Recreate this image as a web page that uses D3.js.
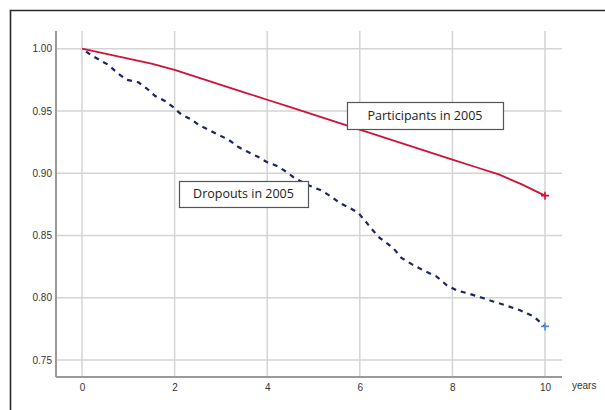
<!DOCTYPE html>
<html>
<head>
<meta charset="utf-8">
<script src="https://cdn.jsdelivr.net/npm/d3@7"></script>
<style>
  body { margin: 0; background: #fff; }
  svg { display: block; }
  .tick text { font-family: "Liberation Sans", Arial, sans-serif; font-size: 10px; fill: #333; }
</style>
</head>
<body>
<div id="chart"></div>
<script>
// survival curves
var participantYears = [0, 0.5, 1, 1.5, 2, 2.5, 3, 3.5, 4, 4.5, 5, 5.5, 6, 6.5, 7, 7.5, 8, 8.5, 9, 9.5, 10];
var participantValues = [1.000, 0.996, 0.992, 0.988, 0.983, 0.977, 0.971, 0.965, 0.959, 0.953, 0.947, 0.941, 0.935, 0.929, 0.923, 0.917, 0.911, 0.905, 0.899, 0.891, 0.882];

var dropoutYears = [0, 0.19, 0.57, 0.78, 0.97, 1.22, 1.40, 1.58, 1.79, 1.97, 2.15, 2.37, 2.51, 2.73, 2.94, 3.16, 3.38, 3.59, 3.81, 3.99,
                    4.20, 4.42, 4.56, 4.85, 5.18, 5.39, 5.57, 5.79, 5.97, 6.11, 6.26, 6.43, 6.72, 6.90, 7.12, 7.37, 7.66, 7.88, 8.09,
                    8.38, 8.64, 8.88, 9.14, 9.46, 9.75, 10.0];
var dropoutValues = [1.000, 0.995, 0.987, 0.980, 0.975, 0.973, 0.968, 0.962, 0.958, 0.953, 0.947, 0.943, 0.939, 0.935, 0.931, 0.927, 0.921, 0.917, 0.913, 0.909,
                     0.906, 0.901, 0.897, 0.891, 0.886, 0.881, 0.876, 0.872, 0.868, 0.862, 0.855, 0.848, 0.840, 0.832, 0.827, 0.822, 0.817, 0.810, 0.806,
                     0.803, 0.800, 0.797, 0.794, 0.790, 0.785, 0.777];

var xTicks = [0, 2, 4, 6, 8, 10];
var yTicks = [0.75, 0.80, 0.85, 0.90, 0.95, 1.00];
var participantLabel = "Participants in 2005";
var dropoutLabel = "Dropouts in 2005";
var xAxisLabel = "years";

(function () {
    var width = 605, height = 410;
    var plot = { left: 56, right: 562, top: 31, bottom: 377 };

    var svg = d3.select('#chart')
                .append('svg')
                .attr('width', width)
                .attr('height', height);

    var xScale = d3.scaleLinear().domain([0, 10]).range([82, 545]);
    var yScale = d3.scaleLinear().domain([0.75, 1.0]).range([360, 48.7]);

    // outer frame (only top and left edges are visible)
    svg.append('path')
        .attr('d', 'M10.5,410 L10.5,10.5 L605,10.5')
        .attr('fill', 'none')
        .attr('stroke', '#2a2a2a')
        .attr('stroke-width', 1.6);

    // gridlines
    svg.append('g').selectAll('line')
        .data(xTicks)
        .enter()
        .append('line')
        .attr('x1', function(d) { return xScale(d); })
        .attr('x2', function(d) { return xScale(d); })
        .attr('y1', plot.top)
        .attr('y2', plot.bottom)
        .attr('stroke', '#d4d4d4')
        .attr('stroke-width', 1.5);

    svg.append('g').selectAll('line')
        .data(yTicks)
        .enter()
        .append('line')
        .attr('x1', plot.left)
        .attr('x2', plot.right)
        .attr('y1', function(d) { return yScale(d); })
        .attr('y2', function(d) { return yScale(d); })
        .attr('stroke', '#d4d4d4')
        .attr('stroke-width', 1.5);

    // axis lines
    svg.append('line')
        .attr('x1', plot.left).attr('x2', plot.left)
        .attr('y1', plot.top).attr('y2', plot.bottom)
        .attr('stroke', '#9a9a9a').attr('stroke-width', 2);
    svg.append('line')
        .attr('x1', plot.left).attr('x2', plot.right)
        .attr('y1', plot.bottom).attr('y2', plot.bottom)
        .attr('stroke', '#9a9a9a').attr('stroke-width', 2);

    // tick labels
    var yAxis = svg.append('g')
        .attr('transform', 'translate(' + plot.left + ',0)')
        .call(d3.axisLeft(yScale).tickValues(yTicks).tickFormat(d3.format('.2f')).tickSize(0).tickPadding(4));
    yAxis.select('.domain').remove();

    var xAxis = svg.append('g')
        .attr('transform', 'translate(0,' + plot.bottom + ')')
        .call(d3.axisBottom(xScale).tickValues(xTicks).tickFormat(d3.format('d')).tickSize(0).tickPadding(7));
    xAxis.select('.domain').remove();

    svg.append('text')
        .attr('x', 572)
        .attr('y', 389)
        .style('font-family', '"Liberation Sans", Arial, sans-serif')
        .style('font-size', '10px')
        .style('fill', '#333')
        .text(xAxisLabel);

    // curves
    var line = d3.line()
        .x(function(d) { return xScale(d[0]); })
        .y(function(d) { return yScale(d[1]); });

    var participants = participantYears.map(function(t, i) { return [t, participantValues[i]]; });
    var dropouts = dropoutYears.map(function(t, i) { return [t, dropoutValues[i]]; });

    svg.append('path')
        .datum(participants)
        .attr('d', line)
        .attr('fill', 'none')
        .attr('stroke', '#cf1237')
        .attr('stroke-width', 1.8);

    svg.append('path')
        .datum(dropouts)
        .attr('d', line)
        .attr('fill', 'none')
        .attr('stroke', '#1c2466')
        .attr('stroke-width', 2.2)
        .attr('stroke-dasharray', '5,5')
        .attr('stroke-dashoffset', -5);

    // censoring marks at the end
    function cross(d, colour) {
        var cx = xScale(d[0]), cy = yScale(d[1]);
        svg.append('path')
            .attr('d', 'M' + (cx - 4) + ',' + cy + 'H' + (cx + 4) + 'M' + cx + ',' + (cy - 4) + 'V' + (cy + 4))
            .attr('stroke', colour)
            .attr('stroke-width', 1.6);
    }
    cross(participants[participants.length - 1], '#cf1237');
    cross(dropouts[dropouts.length - 1], '#4a8fe0');

    // label boxes
    function labelBox(x, y, w, h, txt) {
        svg.append('rect')
            .attr('x', x + 0.5).attr('y', y + 0.5)
            .attr('width', w).attr('height', h)
            .attr('fill', '#fff')
            .attr('stroke', '#555')
            .attr('stroke-width', 1.2);
        svg.append('text')
            .attr('x', x + w / 2)
            .attr('y', y + h / 2)
            .attr('dy', '0.35em')
            .attr('text-anchor', 'middle')
            .style('font-family', '"Open Sans", sans-serif')
            .style('font-size', '12.5px')
            .style('fill', '#222')
            .text(txt);
    }
    labelBox(347, 102, 156, 27, participantLabel);
    labelBox(179, 181, 129, 26, dropoutLabel);
})();
</script>
</body>
</html>
